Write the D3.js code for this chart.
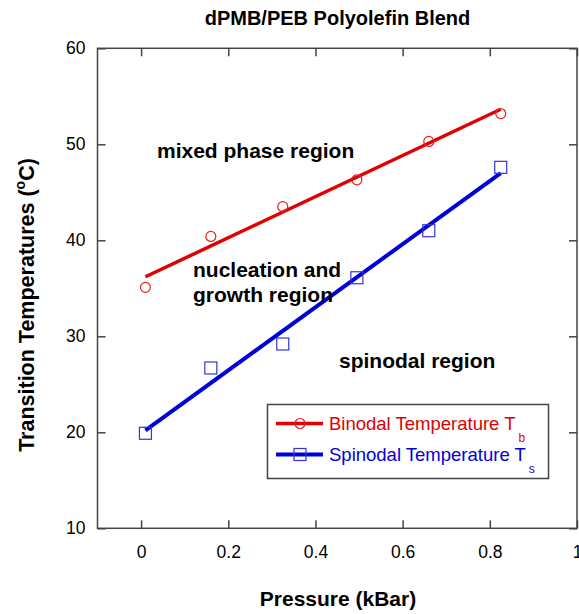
<!DOCTYPE html>
<html lang="en">
	<head>
		<meta charset="utf-8">
		<title>dPMB/PEB Polyolefin Blend</title>
		<script type="text/javascript" src="https://d3js.org/d3.v7.min.js"></script>
		<style type="text/css">
			body {
				margin: 0;
				background-color: #fff;
			}
			svg {
				font-family: "Liberation Sans", Arial, sans-serif;
			}
		</style>
	</head>
	<body>
		<script type="text/javascript">

			// data
			var pressure = [0.01, 0.16, 0.325, 0.495, 0.66, 0.825];
			var binodal = [35.1, 40.4, 43.5, 46.3, 50.3, 53.2];
			var spinodal = [19.9, 26.7, 29.2, 36.1, 41.0, 47.6];
			// fitted lines, start and end
			var binodalFit = [[0.01, 36.2], [0.825, 53.65]];
			var spinodalFit = [[0.01, 20.2], [0.825, 47.0]];
			var xTicks = [0, 0.2, 0.4, 0.6, 0.8, 1];
			var yTicks = [10, 20, 30, 40, 50, 60];

			var w = 579, h = 614;
			var pl = 97.5, pr = 577, pt = 48.3, pb = 528.3;

			var svg = d3.select("body")
						.append("svg")
						.attr("width", w)
						.attr("height", h);

			var x = d3.scaleLinear().domain([-0.1, 1]).range([pl, pr]);
			var y = d3.scaleLinear().domain([10, 60]).range([pb, pt]);

			// frame + inward ticks on all sides
			svg.append("rect")
				.attr("x", pl).attr("y", pt)
				.attr("width", pr - pl).attr("height", pb - pt)
				.attr("fill", "none").attr("stroke", "#444").attr("stroke-width", 1.5);

			var tl = 8;
			svg.append("g").attr("transform", "translate(0," + pb + ")")
				.call(d3.axisBottom(x).tickValues(xTicks).tickSizeInner(-tl).tickSizeOuter(0).tickPadding(17)
					.tickFormat(function(d) { return d3.format("")(d); }))
				.call(function(g) { g.select(".domain").remove(); });
			svg.append("g").attr("transform", "translate(0," + pt + ")")
				.call(d3.axisTop(x).tickValues(xTicks).tickSizeInner(-tl).tickSizeOuter(0).tickFormat(""))
				.call(function(g) { g.select(".domain").remove(); });
			svg.append("g").attr("transform", "translate(" + pl + ",0)")
				.call(d3.axisLeft(y).tickValues(yTicks).tickSizeInner(-tl).tickSizeOuter(0).tickPadding(12))
				.call(function(g) { g.select(".domain").remove(); });
			svg.append("g").attr("transform", "translate(" + pr + ",0)")
				.call(d3.axisRight(y).tickValues(yTicks).tickSizeInner(-tl).tickSizeOuter(0).tickFormat(""))
				.call(function(g) { g.select(".domain").remove(); });

			svg.selectAll(".tick line").attr("stroke", "#444").attr("stroke-width", 1.5);
			svg.selectAll(".tick text")
				.attr("font-family", "Liberation Sans, Arial, sans-serif")
				.attr("font-size", 17.5).attr("fill", "#000");

			// fit lines
			var line = d3.line().x(function(d) { return x(d[0]); }).y(function(d) { return y(d[1]); });
			svg.append("path").datum(binodalFit).attr("d", line)
				.attr("stroke", "#e00000").attr("stroke-width", 3.5).attr("fill", "none");
			svg.append("path").datum(spinodalFit).attr("d", line)
				.attr("stroke", "#0000d8").attr("stroke-width", 4).attr("fill", "none");

			// markers
			svg.selectAll(".circ")
				.data(pressure)
				.enter()
				.append("circle")
				.attr("cx", function(d) { return x(d); })
				.attr("cy", function(d, i) { return y(binodal[i]); })
				.attr("r", 5)
				.attr("fill", "none").attr("stroke", "#e82020").attr("stroke-width", 1.2);

			var s = 12;
			svg.selectAll(".sq")
				.data(pressure)
				.enter()
				.append("rect")
				.attr("x", function(d) { return x(d) - s / 2; })
				.attr("y", function(d, i) { return y(spinodal[i]) - s / 2; })
				.attr("width", s).attr("height", s)
				.attr("fill", "none").attr("stroke", "#3333dd").attr("stroke-width", 1.2);

			// region labels
			var notes = [
				{t: "mixed phase region", x: 157, y: 158},
				{t: "nucleation and", x: 193, y: 277},
				{t: "growth region", x: 193, y: 302},
				{t: "spinodal region", x: 339, y: 368}
			];
			svg.selectAll(".note")
				.data(notes)
				.enter()
				.append("text")
				.attr("x", function(d) { return d.x; })
				.attr("y", function(d) { return d.y; })
				.attr("font-size", 21).attr("font-weight", "bold")
				.text(function(d) { return d.t; });

			// legend
			var lg = svg.append("g");
			lg.append("rect")
				.attr("x", 267.5).attr("y", 404.5).attr("width", 281).attr("height", 74)
				.attr("fill", "#fff").attr("stroke", "#444").attr("stroke-width", 1.5);
			var rows = [
				{name: "Binodal Temperature T", sub: "b", c: "#e00000", mc: "#e82020", yy: 423.5},
				{name: "Spinodal Temperature T", sub: "s", c: "#0000d8", mc: "#3333dd", yy: 454.5}
			];
			rows.forEach(function(r, i) {
				lg.append("line").attr("x1", 276).attr("x2", 323).attr("y1", r.yy).attr("y2", r.yy)
					.attr("stroke", r.c).attr("stroke-width", i ? 4 : 3.5);
				if (i === 0) {
					lg.append("circle").attr("cx", 300).attr("cy", r.yy).attr("r", 5)
						.attr("fill", "none").attr("stroke", r.mc).attr("stroke-width", 1.2);
				} else {
					lg.append("rect").attr("x", 294).attr("y", r.yy - 6).attr("width", 12).attr("height", 12)
						.attr("fill", "none").attr("stroke", r.mc).attr("stroke-width", 1.2);
				}
				var t = lg.append("text").attr("x", 329).attr("y", r.yy + 6.5)
					.attr("font-size", 18.5).attr("fill", r.c);
				t.append("tspan").text(r.name);
				t.append("tspan").attr("dx", 3).attr("dy", 12).attr("font-size", 12).text(r.sub);
			});

			// title and axis labels
			svg.append("text")
				.attr("x", 337.5).attr("y", 25)
				.attr("text-anchor", "middle")
				.attr("font-size", 20).attr("font-weight", "bold")
				.text("dPMB/PEB Polyolefin Blend");

			svg.append("text")
				.attr("x", 338).attr("y", 606)
				.attr("text-anchor", "middle")
				.attr("font-size", 21).attr("font-weight", "bold")
				.text("Pressure (kBar)");

			var yl = svg.append("text")
				.attr("transform", "translate(34,305) rotate(-90)")
				.attr("text-anchor", "middle")
				.attr("font-size", 21.5).attr("font-weight", "bold");
			yl.append("tspan").text("Transition Temperatures (");
			yl.append("tspan").attr("dy", -9).attr("font-size", 14).text("o");
			yl.append("tspan").attr("dy", 9).text("C)");

		</script>
	</body>
</html>
